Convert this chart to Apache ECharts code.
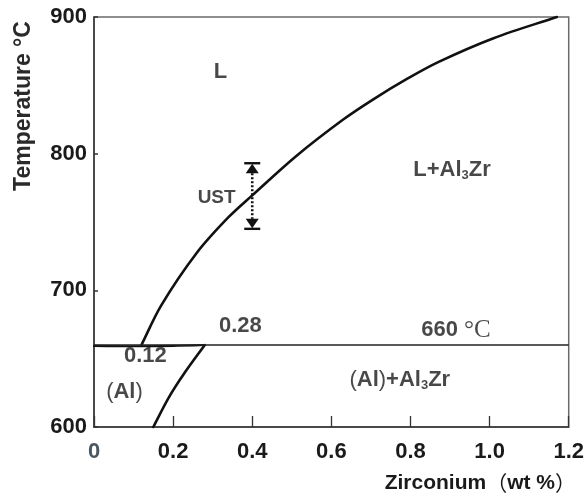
<!DOCTYPE html>
<html>
<head>
<meta charset="utf-8">
<script src="https://cdn.jsdelivr.net/npm/echarts@6/dist/echarts.min.js"></script>
<style>
  html, body { margin: 0; padding: 0; background: #fff; }
  #chart { width: 587px; height: 497px; }
</style>
</head>
<body>
<div id="chart"></div>
<script>
// Al-Zr phase diagram (Al-rich corner)

// Liquidus: L / L+Al3Zr boundary  [Zr wt%, temperature °C]
const liquidusZr = [0.12, 0.17, 0.26, 0.34, 0.40, 0.51, 0.63, 0.71, 0.79, 0.87, 1.01, 1.17];
const liquidusT  = [660, 689, 727.5, 753.5, 769.5, 798, 825, 840.5, 854.5, 867, 884.5, 900];

// Solvus: (Al) / (Al)+Al3Zr boundary
const solvusZr = [0.15, 0.19, 0.23, 0.28];
const solvusT  = [600, 622, 640, 660];

// Peritectic isotherm
const peritecticT = 660;
const peritecticZr = [0, 1.2];

// Solidus close to the isotherm between 0 and 0.28 wt%
const solidusZr = [0, 0.1, 0.2, 0.28];
const solidusT  = [659.3, 659.1, 659.4, 660];

// UST range marker at 0.4 wt%
const ustZr = 0.4;
const ustRange = [745, 793];

// Region / point labels
const annoText = ['L', 'L+Al{s|3}Zr', '{u|UST}', '0.28', '660 {c|°C}', '0.12', '{p|(}Al{p|)}', '{p|(}Al{p|)}+Al{s|3}Zr'];
const annoZr   = [0.32, 0.905, 0.31, 0.37, 0.915, 0.13, 0.077, 0.773];
const annoT    = [860, 788, 768, 674, 671, 652, 625.5, 634.5];

// Axis ticks
const xTicks = [0, 0.2, 0.4, 0.6, 0.8, 1.0, 1.2];
const xTickLabels = ['0', '0.2', '0.4', '0.6', '0.8', '1.0', '1.2'];
const yTicks = [600, 700, 800, 900];
const yTickLabels = ['600', '700', '800', '900'];

const zip = (a, b) => a.map((v, i) => [v, b[i]]);
const SANS = 'Liberation Sans';
const INK = '#1a1a1a';

// Smooth curve through every data point: cubic Hermite segments with
// chord-length scaled tangents, drawn after mapping each point through the axes.
function splineSeries(name, xs, ys, width) {
  return {
    name, type: 'custom', z: 3,
    data: zip(xs, ys),
    renderItem: (params, api) => {
      if (params.dataIndex !== 0) return null;
      const P = xs.map((x, i) => api.coord([x, ys[i]]));
      const n = P.length;
      const dist = (a, b) => Math.hypot(b[0] - a[0], b[1] - a[1]);
      const tangent = (i) => {
        const a = P[Math.max(i - 1, 0)], b = P[Math.min(i + 1, n - 1)];
        const len = dist(a, b) || 1;
        return [(b[0] - a[0]) / len, (b[1] - a[1]) / len];
      };
      let d = 'M' + P[0][0] + ' ' + P[0][1];
      for (let i = 0; i < n - 1; i++) {
        const p1 = P[i], p2 = P[i + 1];
        const seg = dist(p1, p2) / 3;
        const t1 = tangent(i), t2 = tangent(i + 1);
        const c1 = [p1[0] + t1[0] * seg, p1[1] + t1[1] * seg];
        const c2 = [p2[0] - t2[0] * seg, p2[1] - t2[1] * seg];
        d += ' C' + c1[0] + ' ' + c1[1] + ' ' + c2[0] + ' ' + c2[1] + ' ' + p2[0] + ' ' + p2[1];
      }
      return {
        type: 'path',
        shape: { pathData: d },
        style: { stroke: '#111', lineWidth: width, fill: null, lineCap: 'round' }
      };
    }
  };
}

const chart = echarts.init(document.getElementById('chart'), null, { renderer: 'canvas' });

chart.setOption({
  animation: false,
  backgroundColor: '#fff',
  grid: { left: 94, right: 12, top: 17, bottom: 70, show: true, borderColor: '#6a6a6a', borderWidth: 1.5 },
  xAxis: {
    type: 'value', min: xTicks[0], max: xTicks[xTicks.length - 1], interval: 0.2,
    axisLine: { lineStyle: { color: '#333', width: 1.5 } },
    axisTick: { inside: true, length: 11, lineStyle: { color: '#333', width: 1.3 } },
    splitLine: { show: false },
    axisLabel: {
      margin: 14, fontSize: 22, fontWeight: 'bold', fontFamily: SANS,
      color: (v) => (Math.abs(v) < 1e-9 ? '#4d5760' : INK),
      formatter: (v) => {
        const i = xTicks.findIndex(t => Math.abs(t - v) < 1e-9);
        return i >= 0 ? xTickLabels[i] : '';
      }
    }
  },
  yAxis: {
    type: 'value', min: yTicks[0], max: yTicks[yTicks.length - 1], interval: 100,
    axisLine: { show: true, lineStyle: { color: '#333', width: 1.5 } },
    axisTick: { show: true, inside: true, length: 4, lineStyle: { color: '#333', width: 1.5 } },
    splitLine: { show: false },
    axisLabel: {
      margin: 7, fontSize: 22, fontWeight: 'bold', fontFamily: SANS, color: INK,
      formatter: (v) => {
        const i = yTicks.indexOf(v);
        return i >= 0 ? yTickLabels[i] : '';
      }
    }
  },
  graphic: [
    {
      type: 'text', x: 24, y: 106, rotation: Math.PI / 2,
      style: {
        text: 'Temperature °C', fill: '#2a2a2a',
        font: 'bold 23px "Liberation Sans"', textAlign: 'center', textVerticalAlign: 'middle'
      }
    },
    {
      type: 'text', x: 576, y: 483,
      style: {
        text: 'Zirconium{p|（}wt %{p|）}', fill: INK,
        font: 'bold 21px "Liberation Sans"', textAlign: 'right', textVerticalAlign: 'middle',
        rich: {
          p: { fontFamily: 'Noto Sans CJK SC', fontWeight: 'normal', fontSize: 21, fill: INK }
        }
      }
    }
  ],
  series: [
    splineSeries('Liquidus', liquidusZr, liquidusT, 2.6),
    splineSeries('Solvus', solvusZr, solvusT, 2.6),
    {
      name: 'Peritectic', type: 'line',
      data: peritecticZr.map(x => [x, peritecticT]),
      symbol: 'none', lineStyle: { color: '#222', width: 1.6 }, z: 3
    },
    splineSeries('Solidus', solidusZr, solidusT, 2.2),
    {
      name: 'UST', type: 'custom', z: 4,
      data: [[ustZr, ustRange[0], ustRange[1]]],
      renderItem: (params, api) => {
        const top = api.coord([api.value(0), api.value(2)]);
        const bot = api.coord([api.value(0), api.value(1)]);
        const x = top[0];
        const fill = '#111';
        const head = 10, half = 6.5, bar = 8;
        return {
          type: 'group',
          children: [
            { type: 'line', shape: { x1: x - bar, y1: top[1], x2: x + bar, y2: top[1] }, style: { stroke: fill, lineWidth: 2.4 } },
            { type: 'polygon', shape: { points: [[x, top[1] + 0.5], [x - half, top[1] + head], [x + half, top[1] + head]] }, style: { fill } },
            { type: 'line', shape: { x1: x, y1: top[1] + head, x2: x, y2: bot[1] - head }, style: { stroke: fill, lineWidth: 2.6, lineDash: [2, 2] } },
            { type: 'polygon', shape: { points: [[x, bot[1] - 0.5], [x - half, bot[1] - head], [x + half, bot[1] - head]] }, style: { fill } },
            { type: 'line', shape: { x1: x - bar, y1: bot[1], x2: x + bar, y2: bot[1] }, style: { stroke: fill, lineWidth: 2.4 } }
          ]
        };
      }
    },
    {
      name: 'Labels', type: 'scatter', symbolSize: 0, z: 5,
      data: annoText.map((t, i) => ({ value: [annoZr[i], annoT[i]], text: t })),
      label: {
        show: true, position: 'inside',
        formatter: (p) => p.data.text,
        fontFamily: SANS, fontWeight: 'bold', fontSize: 22, color: INK, lineHeight: 24,
        rich: {
          s: { fontFamily: SANS, fontWeight: 'bold', fontSize: 13, color: INK, verticalAlign: 'bottom', lineHeight: 21 },
          c: { fontFamily: 'Liberation Serif', fontWeight: 'normal', fontSize: 25, color: INK, lineHeight: 24 },
          p: { fontFamily: SANS, fontWeight: 'normal', fontSize: 22, color: INK, lineHeight: 24 },
          u: { fontFamily: SANS, fontWeight: 'bold', fontSize: 19, color: INK, lineHeight: 24 }
        }
      }
    }
  ]
});
</script>
</body>
</html>
